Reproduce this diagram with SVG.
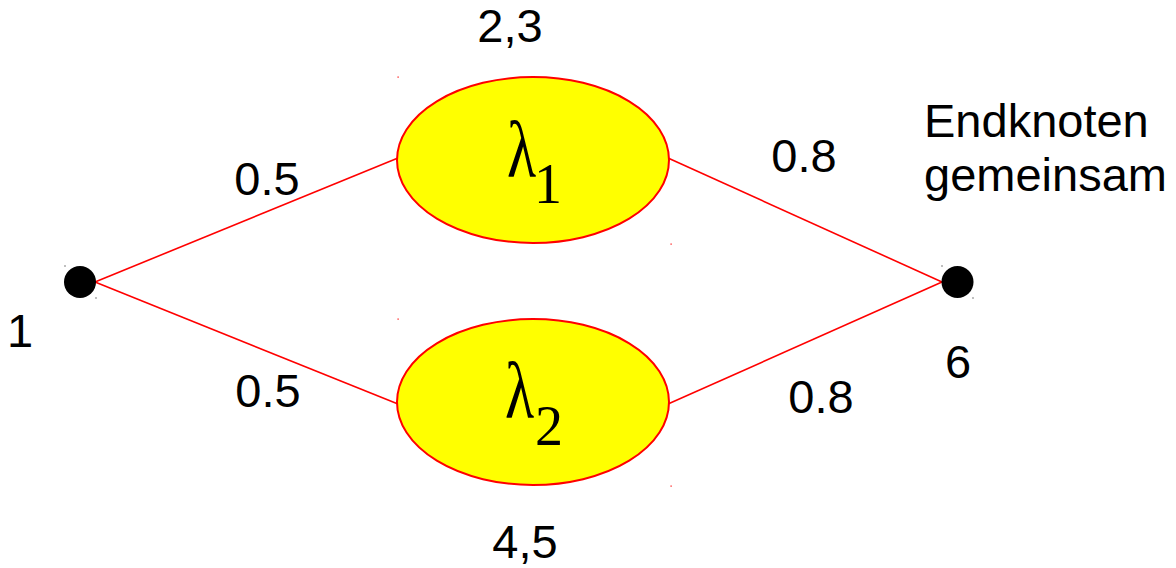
<svg xmlns="http://www.w3.org/2000/svg" width="1176" height="568" viewBox="0 0 1176 568">
<style>
.lbl{font-family:"Liberation Sans",Arial,sans-serif;font-size:47px;fill:#000}
.lam{font-family:"Liberation Serif","Times New Roman",serif;fill:#000}
.edge{stroke:#ff0000;stroke-width:1.6;fill:none}
.ell{fill:#ffff00;stroke:#ff0000;stroke-width:2}
.dot{fill:#000}
.rm{fill:#ff0000}
.bm{fill:#000}
</style>
<rect width="1176" height="568" fill="#fff"/>
<g id="connectors">
<line class="edge" x1="95" y1="282" x2="398" y2="158"/>
<line class="edge" x1="95" y1="282" x2="398" y2="404"/>
<line class="edge" x1="668" y1="158" x2="942" y2="282"/>
<line class="edge" x1="668" y1="404" x2="942" y2="282"/>
</g>
<g id="node1">
<circle class="dot" cx="80" cy="282" r="16"/>
<rect class="bm" x="64.5" y="265.5" width="1" height="1"/>
<rect class="bm" x="95.5" y="297.5" width="1" height="1"/>
<text class="lbl" x="20" y="347" text-anchor="middle">1</text>
</g>
<g id="node6">
<circle class="dot" cx="957.5" cy="282" r="16"/>
<rect class="bm" x="941.5" y="265.5" width="1" height="1"/>
<rect class="bm" x="972.5" y="297.5" width="1" height="1"/>
<text class="lbl" x="958" y="378" text-anchor="middle">6</text>
<text class="lbl" x="924" y="137">Endknoten</text>
<text class="lbl" x="924" y="191">gemeinsam</text>
</g>
<g id="lambda1">
<ellipse class="ell" cx="533" cy="160" rx="136" ry="83"/>
<rect class="rm" x="397.5" y="76.5" width="1.2" height="1.2"/>
<rect class="rm" x="670.5" y="243.5" width="1.2" height="1.2"/>
<text class="lam" x="507" y="177" font-size="80" transform="translate(507 177) scale(0.75 1) translate(-507 -177)">λ</text>
<text class="lam" x="534" y="203" font-size="56">1</text>
<text class="lbl" x="510" y="42" text-anchor="middle">2,3</text>
</g>
<g id="lambda2">
<ellipse class="ell" cx="533" cy="402" rx="136" ry="83"/>
<rect class="rm" x="397.5" y="318.5" width="1.2" height="1.2"/>
<rect class="rm" x="670.5" y="485.5" width="1.2" height="1.2"/>
<text class="lam" x="505" y="418" font-size="80" transform="translate(505 418) scale(0.75 1) translate(-505 -418)">λ</text>
<text class="lam" x="535" y="445" font-size="56">2</text>
<text class="lbl" x="525" y="558" text-anchor="middle">4,5</text>
</g>
<g id="edge-labels">
<text class="lbl" x="267" y="195" text-anchor="middle">0.5</text>
<text class="lbl" x="268" y="407" text-anchor="middle">0.5</text>
<text class="lbl" x="804" y="172" text-anchor="middle">0.8</text>
<text class="lbl" x="821" y="413" text-anchor="middle">0.8</text>
</g>
</svg>
